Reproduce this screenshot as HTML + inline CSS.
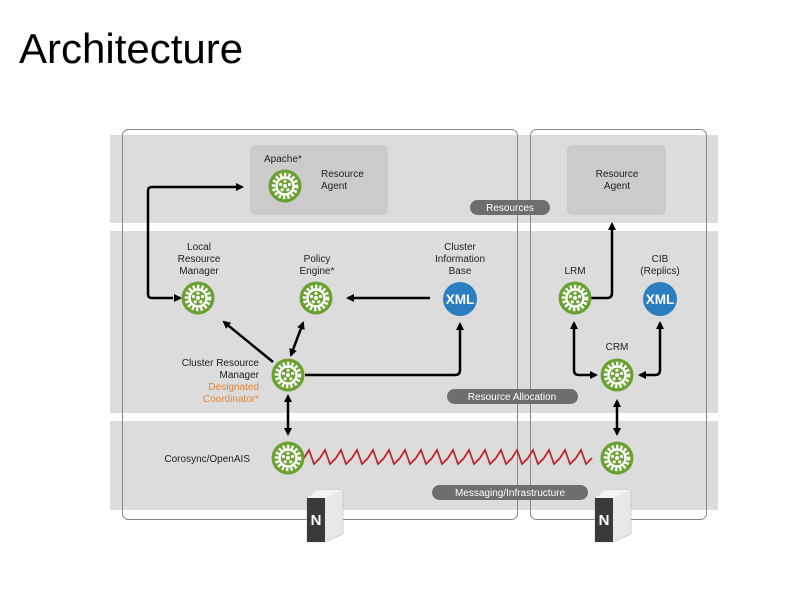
<!DOCTYPE html>
<html><head><meta charset="utf-8"><style>
html,body{margin:0;padding:0;background:#fff;}
svg{display:block;}
text{font-family:"Liberation Sans",sans-serif;}
</style></head><body>
<svg width="800" height="600" viewBox="0 0 800 600" xmlns="http://www.w3.org/2000/svg">
<defs>
<g id="gear">
<circle r="16.5" fill="#69a130"/>
<circle r="11.5" fill="none" stroke="#fff" stroke-width="3.5" stroke-dasharray="2.4 2"/>
<circle r="8.5" fill="none" stroke="#fff" stroke-width="2.4"/>
<circle r="2" fill="#fff"/>
<circle cx="0" cy="-4.7" r="1.6" fill="#fff"/><circle cx="4.5" cy="-1.5" r="1.6" fill="#fff"/>
<circle cx="2.8" cy="3.8" r="1.6" fill="#fff"/><circle cx="-2.8" cy="3.8" r="1.6" fill="#fff"/>
<circle cx="-4.5" cy="-1.5" r="1.6" fill="#fff"/>
</g>
<g id="xml">
<circle r="17" fill="#2b7fc0"/>
<text x="0" y="5" text-anchor="middle" font-size="13.5" font-weight="bold" fill="#fff">XML</text>
</g>
<g id="server">
<path d="M0 8 L10 0 L36 0 L36 44 L18 52 L0 52 Z" fill="#e8e8e8" stroke="#bbb" stroke-width="0.6"/>
<path d="M0 8 L18 8 L18 52 L0 52 Z" fill="#3a3a3a"/>
<path d="M0 8 L10 0 L36 0 L18 8 Z" fill="#f4f4f4"/>
<text x="9" y="35" text-anchor="middle" font-size="15" font-weight="bold" fill="#fff">N</text>
</g>
<marker id="ah" markerWidth="8" markerHeight="8" refX="6" refY="4" orient="auto" markerUnits="userSpaceOnUse">
<path d="M0 0 L8 4 L0 8 Z" fill="#000"/></marker>
<marker id="as" markerWidth="8" markerHeight="8" refX="2" refY="4" orient="auto" markerUnits="userSpaceOnUse">
<path d="M8 0 L0 4 L8 8 Z" fill="#000"/></marker>
</defs>

<text x="19" y="63" font-size="42" fill="#000">Architecture</text>

<rect x="110" y="135" width="608" height="88" fill="#dcdcdd"/>
<rect x="110" y="231" width="608" height="182" fill="#dcdcdd"/>
<rect x="110" y="421" width="608" height="89" fill="#dcdcdd"/>

<rect x="122.5" y="129.5" width="395" height="390" rx="6" fill="none" stroke="#888" stroke-width="1"/>
<rect x="530.5" y="129.5" width="176" height="390" rx="6" fill="none" stroke="#888" stroke-width="1"/>

<rect x="250" y="145" width="138" height="70" rx="5" fill="#cbcbcc"/>
<rect x="567" y="145" width="99" height="70" rx="5" fill="#cbcbcc"/>

<rect x="470" y="200" width="80" height="15" rx="7.5" fill="#6e6e6e"/>
<text x="510" y="211" text-anchor="middle" font-size="10" fill="#fff">Resources</text>
<rect x="447" y="389" width="131" height="15" rx="7.5" fill="#6e6e6e"/>
<text x="512" y="400" text-anchor="middle" font-size="10" fill="#fff">Resource Allocation</text>
<rect x="432" y="485" width="156" height="15" rx="7.5" fill="#6e6e6e"/>
<text x="510" y="496" text-anchor="middle" font-size="10" fill="#fff">Messaging/Infrastructure</text>

<g fill="none" stroke="#000" stroke-width="2.5">
<path d="M173 298 L152 298 Q148 298 148 294 L148 191 Q148 187 152 187 L242 187" marker-end="url(#ah)"/>
<path d="M174 298 L180 298" marker-end="url(#ah)"/>
<path d="M430 298 L348 298" marker-end="url(#ah)"/>
<path d="M273 362 L224 322" marker-end="url(#ah)"/>
<path d="M291 355 L303 323" marker-start="url(#as)" marker-end="url(#ah)"/>
<path d="M305 375 L455 375 Q460 375 460 370 L460 324" marker-end="url(#ah)"/>
<path d="M288 396 L288 434" marker-start="url(#as)" marker-end="url(#ah)"/>
<path d="M591 298 L607 298 Q612 298 612 293 L612 224" marker-end="url(#ah)"/>
<path d="M574 323 L574 370 Q574 375 579 375 L596 375" marker-start="url(#as)" marker-end="url(#ah)"/>
<path d="M660 323 L660 370 Q660 375 655 375 L640 375" marker-start="url(#as)" marker-end="url(#ah)"/>
<path d="M617 401 L617 434" marker-start="url(#as)" marker-end="url(#ah)"/>
</g>

<path d="M304 458 l5 -8 l5 14 l6 -6 l5 -8 l5 14 l6 -6 l5 -8 l5 14 l6 -6 l5 -8 l5 14 l6 -6 l5 -8 l5 14 l6 -6 l5 -8 l5 14 l6 -6 l5 -8 l5 14 l6 -6 l5 -8 l5 14 l6 -6 l5 -8 l5 14 l6 -6 l5 -8 l5 14 l6 -6 l5 -8 l5 14 l6 -6 l5 -8 l5 14 l6 -6 l5 -8 l5 14 l6 -6 l5 -8 l5 14 l6 -6 l5 -8 l5 14 l6 -6 l5 -8 l5 14 l6 -6 l5 -8 l5 14 l6 -6 l5 -8 l5 14 l6 -6" fill="none" stroke="#c0272d" stroke-width="1.8"/>

<use href="#gear" x="285" y="186"/>
<use href="#gear" x="198" y="298"/>
<use href="#gear" x="316" y="298"/>
<use href="#gear" x="288" y="375"/>
<use href="#xml" x="460" y="299"/>
<use href="#gear" x="575" y="298"/>
<use href="#xml" x="660" y="299"/>
<use href="#gear" x="617" y="375"/>
<use href="#gear" x="288" y="458"/>
<use href="#gear" x="617" y="458"/>
<use href="#server" x="307" y="490"/>
<use href="#server" x="595" y="490"/>

<g font-size="10" fill="#222">
<text x="264" y="162">Apache*</text>
<text x="321" y="177">Resource</text><text x="321" y="189">Agent</text>
<text x="617" y="177" text-anchor="middle">Resource</text><text x="617" y="189" text-anchor="middle">Agent</text>
<text x="199" y="250" text-anchor="middle">Local</text>
<text x="199" y="262" text-anchor="middle">Resource</text>
<text x="199" y="274" text-anchor="middle">Manager</text>
<text x="317" y="262" text-anchor="middle">Policy</text>
<text x="317" y="274" text-anchor="middle">Engine*</text>
<text x="460" y="250" text-anchor="middle">Cluster</text>
<text x="460" y="262" text-anchor="middle">Information</text>
<text x="460" y="274" text-anchor="middle">Base</text>
<text x="575" y="274" text-anchor="middle">LRM</text>
<text x="660" y="262" text-anchor="middle">CIB</text>
<text x="660" y="274" text-anchor="middle">(Replics)</text>
<text x="617" y="350" text-anchor="middle">CRM</text>
<text x="259" y="366" text-anchor="end">Cluster Resource</text>
<text x="259" y="378" text-anchor="end">Manager</text>
<text x="259" y="390" text-anchor="end" fill="#e0883a">Designated</text>
<text x="259" y="402" text-anchor="end" fill="#e0883a">Coordinator*</text>
<text x="250" y="462" text-anchor="end">Corosync/OpenAIS</text>
</g>
</svg>
</body></html>
